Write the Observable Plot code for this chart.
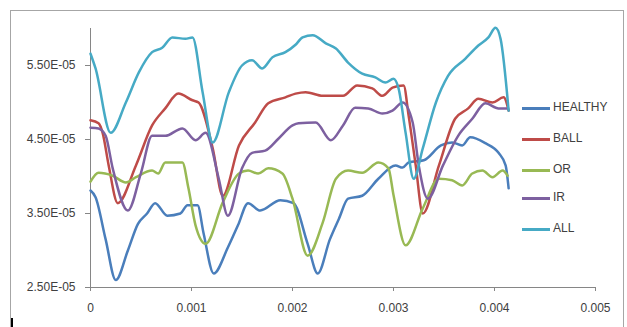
<!DOCTYPE html>
<html>
<head>
<meta charset="utf-8">
<script src="https://cdn.jsdelivr.net/npm/d3@7"></script>
<script src="https://cdn.jsdelivr.net/npm/@observablehq/plot@0.6"></script>
<style>
  html, body { margin: 0; padding: 0; background: #fff; }
  #wrap { position: relative; width: 627px; height: 327px; overflow: hidden; font-family: "Liberation Sans", Arial, sans-serif; }
  #frame { position: absolute; left: 10px; top: 10px; width: 614px; height: 340px; border: 1px solid #a6a6a6; box-sizing: border-box; }
  #chart { position: absolute; left: 0; top: 0; }
  .leg { position: absolute; left: 522px; height: 14px; font-size: 12px; color: #404040; }
  .leg span.sw { position: absolute; left: 0; top: 6px; width: 28px; height: 3px; }
  .leg span.tx { position: absolute; left: 31px; top: -1px; white-space: nowrap; }
  #mark { position: absolute; left: 11px; top: 318px; width: 2px; height: 12px; background: #000; }
</style>
</head>
<body>
<div id="wrap">
  <div id="frame"></div>
  <div id="chart"></div>
  <div id="mark"></div>
</div>
<script>
const seriesNames = ["HEALTHY", "BALL", "OR", "IR", "ALL"];
const seriesColors = ["#4A7EBB", "#BE4B48", "#98B954", "#7D60A0", "#46AAC5"];

const xTicks = [0, 0.001, 0.002, 0.003, 0.004, 0.005];
const xTickLabels = ["0", "0.001", "0.002", "0.003", "0.004", "0.005"];
const yTicks = [2.5e-5, 3.5e-5, 4.5e-5, 5.5e-5];
const yTickLabels = ["2.50E-05", "3.50E-05", "4.50E-05", "5.50E-05"];
const xDomain = [0, 0.005];
const yDomain = [2.5e-5, 6.0e-5];

const healthyT = [0,0.00005,0.00015,0.00025,0.00037,0.00047,0.00056,0.00064,0.00076,0.00089,0.00096,0.00106,0.00112,0.00122,0.00136,0.00146,0.00156,0.00168,0.00188,0.00201,0.00215,0.00225,0.00237,0.00246,0.00255,0.00269,0.00285,0.00302,0.00309,0.00315,0.00330,0.00347,0.00358,0.00368,0.00376,0.00391,0.00404,0.00411,0.00414];
const healthyV = [3.81e-5,3.72e-5,3.15e-5,2.60e-5,3.00e-5,3.36e-5,3.50e-5,3.64e-5,3.47e-5,3.50e-5,3.61e-5,3.61e-5,3.23e-5,2.69e-5,3.04e-5,3.34e-5,3.64e-5,3.54e-5,3.68e-5,3.64e-5,3.09e-5,2.69e-5,3.15e-5,3.43e-5,3.70e-5,3.74e-5,3.97e-5,4.15e-5,4.12e-5,4.19e-5,4.22e-5,4.42e-5,4.46e-5,4.42e-5,4.53e-5,4.45e-5,4.32e-5,4.15e-5,3.84e-5];

const ballT = [0,0.00008,0.00012,0.00018,0.00027,0.00045,0.00061,0.00074,0.00087,0.00101,0.00107,0.00121,0.00131,0.00147,0.00163,0.00176,0.00193,0.00203,0.00213,0.00230,0.00250,0.00264,0.00279,0.00289,0.00299,0.00310,0.00315,0.00322,0.00329,0.00345,0.00361,0.00374,0.00384,0.00398,0.00409,0.00414];
const ballV = [4.76e-5,4.72e-5,4.59e-5,4.15e-5,3.64e-5,4.15e-5,4.69e-5,4.92e-5,5.12e-5,5.03e-5,5.00e-5,4.38e-5,3.74e-5,4.42e-5,4.73e-5,4.99e-5,5.07e-5,5.12e-5,5.14e-5,5.09e-5,5.09e-5,5.23e-5,5.19e-5,5.09e-5,5.20e-5,5.23e-5,4.82e-5,4.15e-5,3.50e-5,4.15e-5,4.78e-5,4.92e-5,5.05e-5,5.00e-5,5.07e-5,4.89e-5];

const orT = [0,0.00008,0.00022,0.00035,0.00045,0.00061,0.00067,0.00074,0.00091,0.00097,0.00104,0.00114,0.00131,0.00147,0.00156,0.00166,0.00176,0.00190,0.00200,0.00215,0.00230,0.00243,0.00255,0.00269,0.00285,0.00295,0.00300,0.00312,0.00329,0.00345,0.00358,0.00368,0.00378,0.00388,0.00398,0.00408,0.00413];
const orV = [3.93e-5,4.05e-5,4.01e-5,3.92e-5,3.99e-5,4.08e-5,4.04e-5,4.19e-5,4.19e-5,3.84e-5,3.34e-5,3.09e-5,3.65e-5,4.04e-5,4.08e-5,4.04e-5,4.11e-5,4.04e-5,3.70e-5,2.93e-5,3.38e-5,3.97e-5,4.08e-5,4.05e-5,4.19e-5,4.11e-5,3.75e-5,3.07e-5,3.57e-5,3.97e-5,3.95e-5,3.88e-5,4.04e-5,4.08e-5,3.99e-5,4.08e-5,4.01e-5];

const irT = [0,0.00008,0.00015,0.00022,0.00037,0.00050,0.00061,0.00074,0.00091,0.00104,0.00114,0.00127,0.00136,0.00150,0.00160,0.00173,0.00186,0.00200,0.00206,0.00223,0.00238,0.00250,0.00262,0.00275,0.00289,0.00299,0.00309,0.00319,0.00325,0.00334,0.00349,0.00364,0.00378,0.00391,0.00404,0.00413];
const irV = [4.66e-5,4.65e-5,4.55e-5,4.11e-5,3.54e-5,4.05e-5,4.55e-5,4.55e-5,4.65e-5,4.49e-5,4.59e-5,3.97e-5,3.47e-5,4.11e-5,4.32e-5,4.35e-5,4.51e-5,4.69e-5,4.72e-5,4.73e-5,4.49e-5,4.69e-5,4.93e-5,4.92e-5,4.85e-5,4.89e-5,5.00e-5,4.73e-5,4.15e-5,3.70e-5,4.15e-5,4.55e-5,4.78e-5,4.99e-5,4.92e-5,4.92e-5];

const allT = [0,0.00005,0.00020,0.00035,0.00048,0.00061,0.00071,0.00081,0.00094,0.00101,0.00111,0.00121,0.00137,0.00150,0.00160,0.00170,0.00180,0.00193,0.00203,0.00210,0.00220,0.00233,0.00243,0.00255,0.00269,0.00282,0.00292,0.00300,0.00305,0.00312,0.00320,0.00329,0.00342,0.00354,0.00371,0.00384,0.00394,0.00401,0.00406,0.00414];
const allV = [5.66e-5,5.46e-5,4.59e-5,5.00e-5,5.41e-5,5.68e-5,5.74e-5,5.88e-5,5.86e-5,5.88e-5,5.14e-5,4.46e-5,5.14e-5,5.50e-5,5.57e-5,5.46e-5,5.61e-5,5.68e-5,5.78e-5,5.88e-5,5.91e-5,5.80e-5,5.73e-5,5.54e-5,5.39e-5,5.34e-5,5.27e-5,5.32e-5,5.19e-5,4.59e-5,3.97e-5,4.38e-5,5.00e-5,5.36e-5,5.59e-5,5.77e-5,5.88e-5,6.01e-5,5.86e-5,4.89e-5];

const seriesT = [healthyT, ballT, orT, irT, allT];
const seriesV = [healthyV, ballV, orV, irV, allV];

const rows = [];
seriesNames.forEach((name, s) => {
  seriesT[s].forEach((t, i) => rows.push({series: name, t, v: seriesV[s][i]}));
});

const axisColor = "#868686";
const textColor = "#404040";

const chart = Plot.plot({
  width: 627,
  height: 327,
  marginLeft: 90,
  marginRight: 32,
  marginTop: 28,
  marginBottom: 40,
  style: {fontFamily: "'Liberation Sans', Arial, sans-serif", fontSize: "12px", color: textColor, background: "transparent"},
  x: {domain: xDomain, label: null},
  y: {domain: yDomain, label: null},
  color: {domain: seriesNames, range: seriesColors},
  marks: [
    Plot.ruleX([xDomain[0]], {y1: yDomain[0], y2: yDomain[1], stroke: axisColor, strokeWidth: 1}),
    Plot.ruleY([yDomain[0]], {stroke: axisColor, strokeWidth: 1}),
    Plot.axisX({ticks: xTicks, tickFormat: (d, i) => xTickLabels[i], tickSize: 4, tickPadding: 12, stroke: axisColor, fill: textColor, fontSize: 12, label: null}),
    Plot.axisY({ticks: yTicks, tickFormat: (d, i) => yTickLabels[i], tickSize: 5, tickPadding: 10, stroke: axisColor, fill: textColor, fontSize: 12, label: null}),
    Plot.line(rows, {x: "t", y: "v", z: "series", stroke: "series", strokeWidth: 2.5, curve: "monotone-x"})
  ]
});
document.getElementById("chart").appendChild(chart);

const legendTops = [101, 132, 163, 191, 222];
const wrap = document.getElementById("wrap");
seriesNames.forEach((name, i) => {
  const d = document.createElement("div");
  d.className = "leg";
  d.style.top = legendTops[i] + "px";
  d.innerHTML = `<span class="sw" style="background:${seriesColors[i]}"></span><span class="tx">${name}</span>`;
  wrap.appendChild(d);
});
</script>
</body>
</html>
